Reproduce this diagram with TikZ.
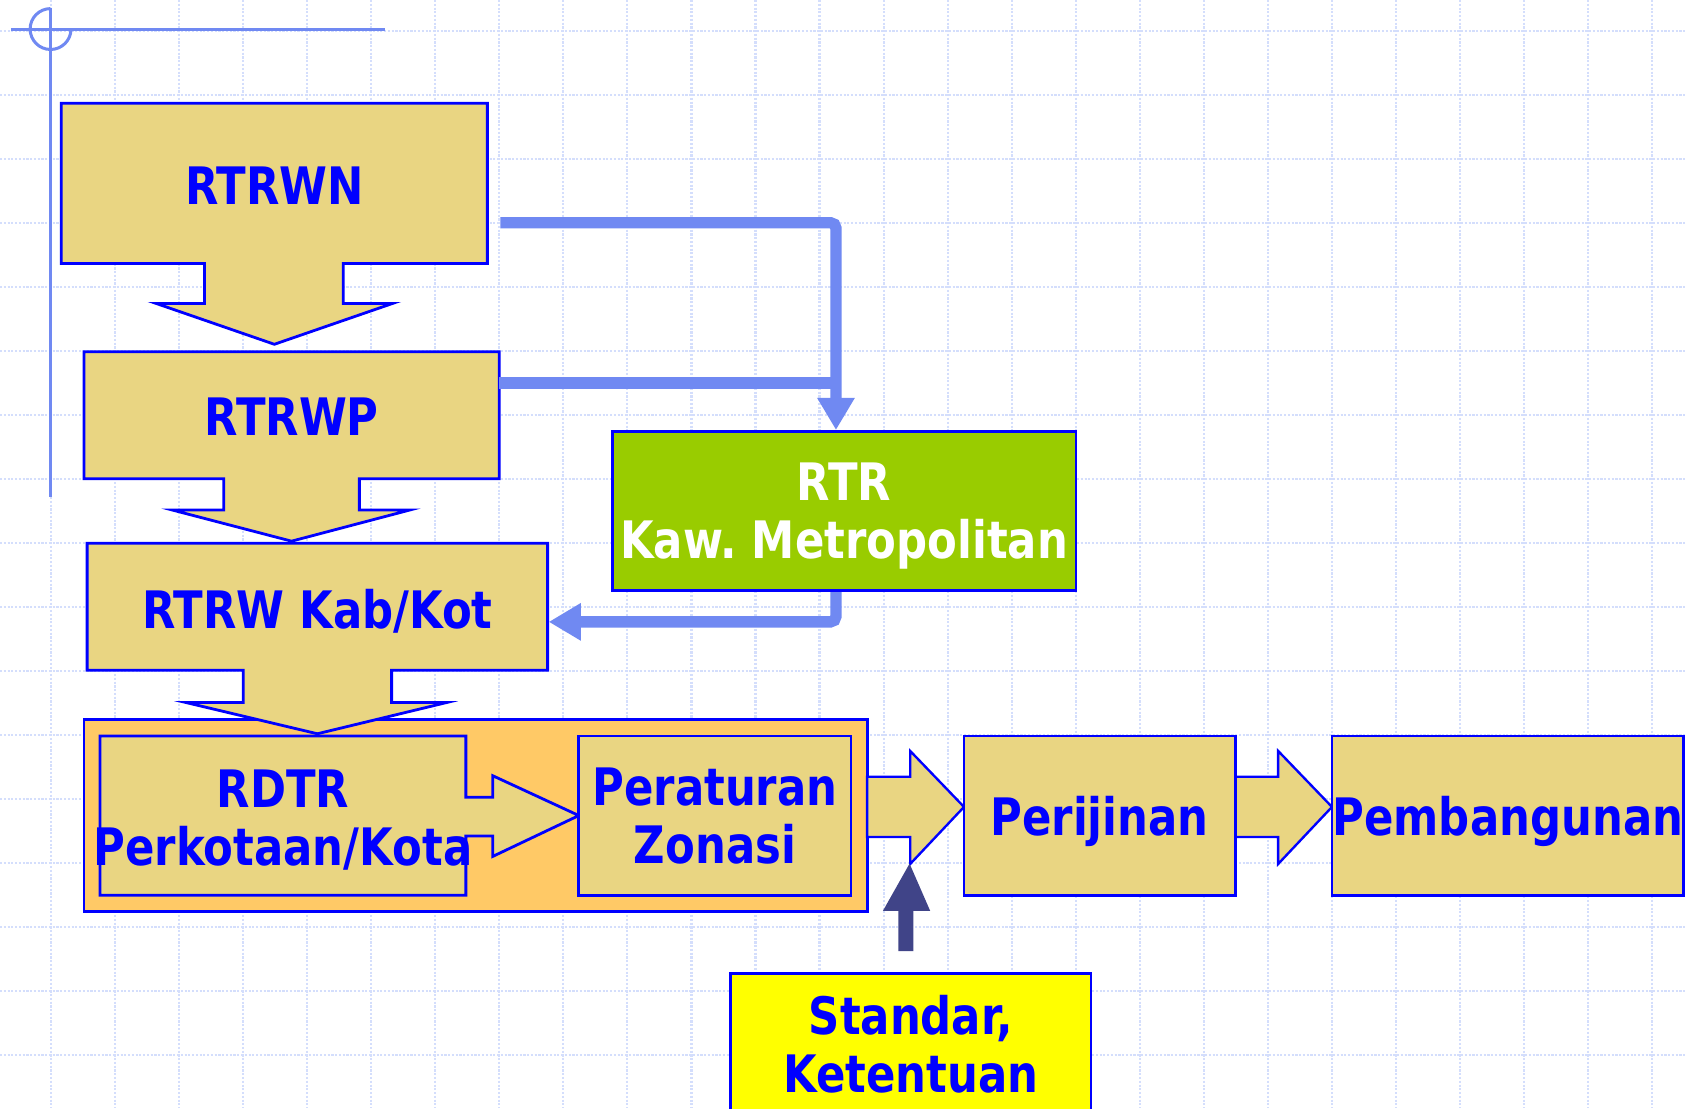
\documentclass[tikz,border=0pt]{standalone}
\usepackage{fontspec}
\setmainfont{DejaVu Sans}[FakeStretch=0.84]
\usetikzlibrary{arrows.meta}
\definecolor{khaki}{RGB}{233,213,130}
\definecolor{bord}{RGB}{0,0,255}
\definecolor{orng}{RGB}{255,201,102}
\definecolor{grn}{RGB}{153,204,0}
\definecolor{yel}{RGB}{255,255,0}
\definecolor{navyc}{RGB}{64,68,136}
\definecolor{connc}{RGB}{112,137,242}
\definecolor{gridc}{RGB}{212,222,252}
\frenchspacing
\begin{document}
\begin{tikzpicture}[x=1pt,y=-1pt,
  gridline/.style={draw=gridc,line width=2pt,dash pattern=on 2pt off 1.5pt},
  cross/.style={draw=connc,line width=2.8pt},
  callout/.style={fill=khaki,draw=bord,line width=2.6pt,line join=miter},
  blockarrow/.style={fill=khaki,draw=bord,line width=2.2pt,line join=miter},
  lbl/.style={text=bord,font=\bfseries\fontsize{48pt}{54pt}\selectfont,align=center,text depth=0pt,inner sep=0pt},
  plainbox/.style={lbl,draw=bord,line width=2.6pt,fill=khaki},
  conn/.style={draw=connc,line width=10.5pt,rounded corners=5pt,-{Triangle[width=33pt,length=30pt]}},
  connl/.style={draw=connc,line width=10.5pt}]
\useasboundingbox (0,0) rectangle (1568,1030);
\fill[white] (0,0) rectangle (1568,1030);
\clip (0,0) rectangle (1568,1030);
% background grid
\foreach \k in {-1,...,24} \draw[gridline] ({106.9+59.53*\k},0) -- ({106.9+59.53*\k},1030);
\foreach \j in {0,...,16} \draw[gridline] (0,{28.8+59.5*\j}) -- (1568,{28.8+59.5*\j});
% crosshair
\draw[cross] (47,7) -- (47,462);
\draw[cross] (10,27) -- (358,27);
\draw[cross] (47,8) arc[start angle=-90,end angle=-360,radius=19];
% orange container
\node[draw=bord,line width=2.6pt,fill=orng,minimum width=728pt,minimum height=178pt,inner sep=0pt] (cont) at (442,758) {};
% callouts
\draw[callout] (57,96) -- (453,96) -- (453,245) -- (319,245) -- (319,282) -- (365,282) -- (255,320) -- (145,282) -- (190,282) -- (190,245) -- (57,245) -- cycle;
\draw[callout] (78,327) -- (464,327) -- (464,445) -- (334,445) -- (334,474) -- (381,474) -- (271,503) -- (160,474) -- (208,474) -- (208,445) -- (78,445) -- cycle;
\draw[callout] (81,505) -- (509,505) -- (509,623) -- (364,623) -- (364,653) -- (415,653) -- (295,682) -- (173,653) -- (226,653) -- (226,623) -- (81,623) -- cycle;
\draw[callout] (93,684) -- (433,684) -- (433,741) -- (458,741) -- (458,721) -- (538,758) -- (458,796) -- (458,777) -- (433,777) -- (433,832) -- (93,832) -- cycle;
% plain boxes
\node[plainbox,minimum width=253pt,minimum height=148pt] (perat) at (664.5,758) {Peraturan\\Zonasi};
\node[plainbox,fill=grn,text=white,minimum width=431pt,minimum height=148pt] (rtr) at (784.5,475) {RTR\\Kaw. Metropolitan};
% connectors
\coordinate (c1s) at (465,207);
\coordinate (c1c) at (777,207);
\draw[conn] (c1s) -- (c1c) -- (c1c |- rtr.north);
\coordinate (c2s) at (464,356);
\draw[connl] (c2s) -- (c2s -| c1c);
\coordinate (c3c) at (777,578);
\coordinate (c3e) at (510,578);
\draw[conn] (rtr.south -| c3c) -- (c3c) -- (c3e);
% block arrows
\draw[blockarrow] (806,722) -- (846,722) -- (846,698) -- (896,750) -- (846,803) -- (846,778) -- (806,778) -- cycle;
\draw[blockarrow] (1148,722) -- (1188,722) -- (1188,698) -- (1238,750) -- (1188,803) -- (1188,778) -- (1148,778) -- cycle;
\node[plainbox,minimum width=252pt,minimum height=148pt] (perij) at (1022,758) {Perijinan};
\node[plainbox,minimum width=327pt,minimum height=148pt] (pemb) at (1401.5,758) {Pembangunan};
% navy up arrow
\fill[navyc] (835,884) -- (849,884) -- (849,846.5) -- (864.5,846.5) -- (845.4,802.7) -- (820.7,846.5) -- (835,846.5) -- cycle;
\node[plainbox,fill=yel,minimum width=335pt,minimum height=131pt] (std) at (846.5,970.5) {Standar,\\Ketentuan};
% callout labels
\node[lbl] (rtrwn) at (255,172.5) {RTRWN};
\node[lbl] (rtrwp) at (271,387) {RTRWP};
\node[lbl] (rtrwk) at (295,566) {RTRW Kab/Kot};
\node[lbl] (rdtr) at (263,760) {RDTR\\Perkotaan/Kota};
\end{tikzpicture}
\end{document}
